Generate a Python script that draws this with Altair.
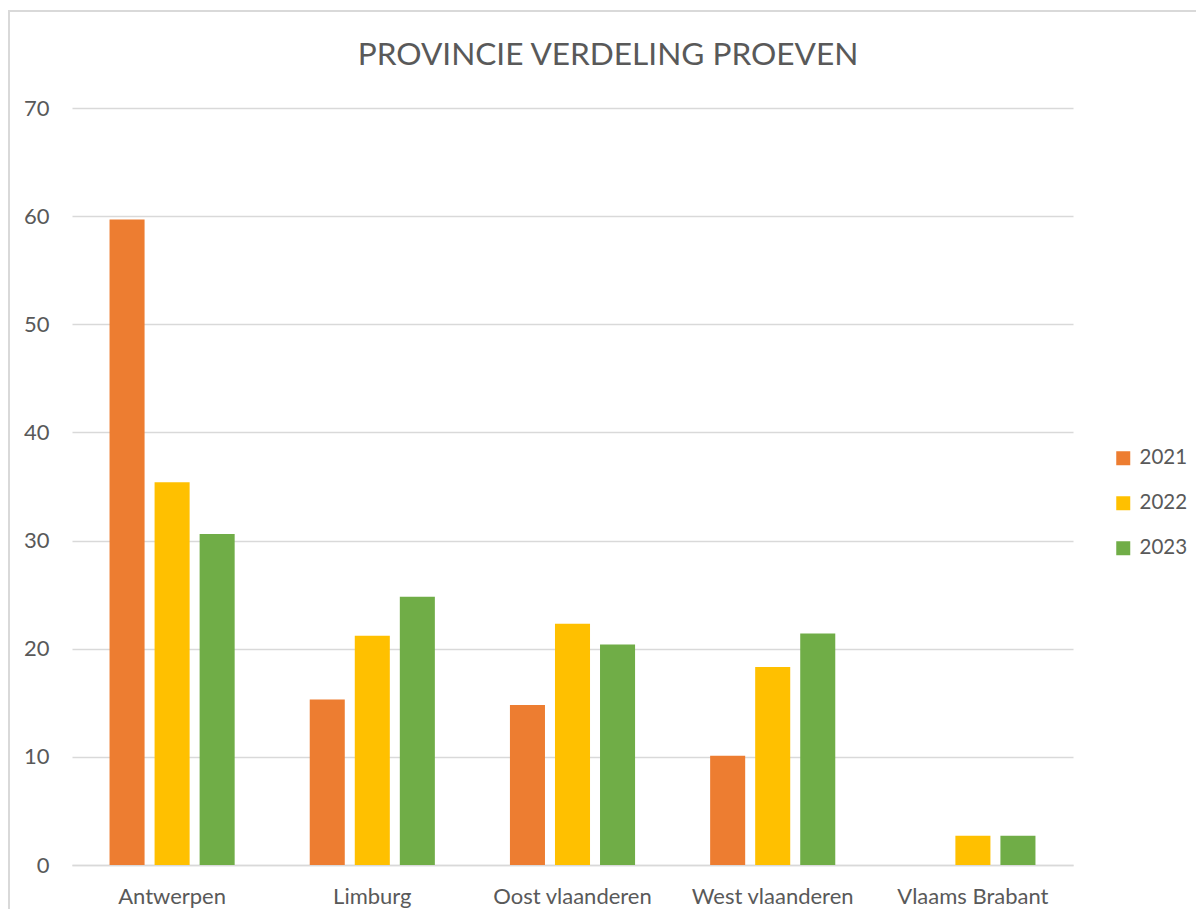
import altair as alt
import pandas as pd

provinces = ["Antwerpen", "Limburg", "Oost vlaanderen", "West vlaanderen", "Vlaams Brabant"]
years = ["2021", "2022", "2023"]
v2021 = [59.7, 15.3, 14.8, 10.1, 0]
v2022 = [35.4, 21.2, 22.3, 18.3, 2.7]
v2023 = [30.6, 24.8, 20.4, 21.4, 2.7]
colors = ["#ED7D31", "#FFC000", "#70AD47"]
title_text = "PROVINCIE VERDELING PROEVEN"

rows = []
for i, p in enumerate(provinces):
    for y, vals in zip(years, [v2021, v2022, v2023]):
        rows.append({"provincie": p, "jaar": y, "waarde": vals[i]})
df = pd.DataFrame(rows)

FONT = "Lato"
W, H = 1001, 757

bars = alt.Chart(df).mark_bar().encode(
    x=alt.X("provincie:N", sort=provinces,
            scale=alt.Scale(paddingInner=0.375, paddingOuter=0.1875),
            axis=alt.Axis(title=None, labelAngle=0, ticks=False, domain=True, grid=False,
                          domainColor="#D9D9D9", domainWidth=1.5,
                          labelColor="#595959", labelFont=FONT, labelFontSize=22,
                          labelPadding=21)),
    xOffset=alt.XOffset("jaar:N", sort=years,
                        scale=alt.Scale(paddingInner=0.222, paddingOuter=0)),
    y=alt.Y("waarde:Q", scale=alt.Scale(domain=[0, 70], nice=False),
            axis=alt.Axis(title=None, values=list(range(0, 71, 10)), grid=True,
                          gridColor="#D9D9D9", gridWidth=1.5, domain=False, ticks=False,
                          labelColor="#595959", labelFont=FONT, labelFontSize=22,
                          labelPadding=23)),
    color=alt.Color("jaar:N", sort=years,
                    scale=alt.Scale(domain=years, range=colors),
                    legend=alt.Legend(title=None, orient="none", legendX=1041, legendY=340,
                                      symbolType="square", symbolSize=196,
                                      symbolStrokeWidth=0,
                                      labelFont=FONT, labelFontSize=20.5,
                                      labelColor="#595959", rowPadding=24,
                                      labelOffset=6)),
)

border = alt.Chart(pd.DataFrame({"a": [0]})).mark_rect(
    fill=None, stroke="#D9D9D9", strokeWidth=2
).encode(
    x=alt.value(-63), x2=alt.value(1200),
    y=alt.value(-97), y2=alt.value(900),
)

title = alt.Chart(pd.DataFrame({"t": [title_text]})).mark_text(
    font=FONT, fontSize=31.6, color="#595959", align="center", baseline="alphabetic"
).encode(
    text="t:N", x=alt.value(536), y=alt.value(-43),
)

chart = alt.layer(border, title, bars).properties(
    width=W, height=H,
    background="white",
    padding={"left": 64, "top": 100, "right": 123, "bottom": 44},
    autosize=alt.AutoSizeParams(type="none"),
).configure_view(stroke="transparent")

chart.save("out.html", embed_options={"renderer": "svg", "actions": False})
